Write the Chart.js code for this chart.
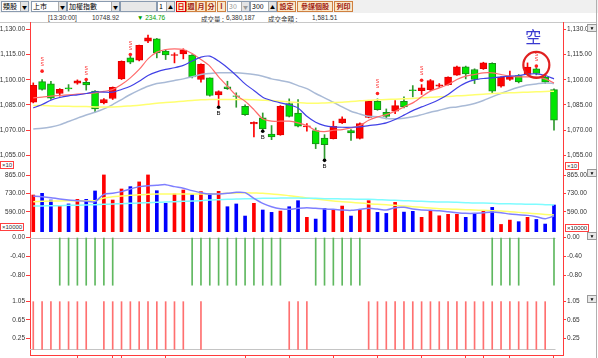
<!DOCTYPE html>
<html><head><meta charset="utf-8">
<script src="https://cdn.jsdelivr.net/npm/chart.js@4.4.1/dist/chart.umd.min.js"></script>
<style>
body{margin:0;background:#fff;font-family:"Liberation Sans",Arial,sans-serif;}
#wrap{position:relative;width:598px;height:358px;overflow:hidden;background:#fff;}
canvas{position:absolute;left:0;}
.a{position:absolute;white-space:nowrap;}
.tb{position:absolute;left:0;top:0;width:598px;height:13px;background:#f0f0f0;}
.sel{position:absolute;top:1px;height:9px;border:1px solid #8a9bb0;background:#fff;font:7px "Noto Sans CJK TC";line-height:9px;padding-left:1px;color:#000;box-sizing:content-box;}
.sel i{position:absolute;right:0;top:0;width:7px;height:9px;background:#e4e4e4;border-left:1px solid #aaa;font-style:normal;font-size:5px;line-height:9px;text-align:center;}
.btn{position:absolute;top:1px;height:9px;border:1px solid #d08040;background:#fbe8c8;font:bold 7px "Noto Sans CJK TC";line-height:9px;text-align:center;color:#a02010;}
.inf{position:absolute;top:14px;font:6.5px "Liberation Sans";color:#333;}
.box{position:absolute;border:1px solid #ff4040;font:6px "Liberation Sans";line-height:6px;color:#333;background:#fff;padding:0 1px;}
.dd{position:absolute;left:587px;width:8px;height:6px;background:#e8e8e8;border:1px solid #999;font-size:5px;line-height:6px;text-align:center;color:#000;}
</style></head><body>
<div id="wrap">
 <div class="tb">
  <div class="sel" style="left:1px;width:25px">類股<i>▼</i></div>
  <div class="sel" style="left:31px;width:33px">上市<i>▼</i></div>
  <div class="sel" style="left:67px;width:50px">加權指數<i>▼</i></div>
  <div class="sel" style="left:120px;width:34px;background:#e8e8e8"></div>
  <div class="sel" style="left:157px;width:15px">1<i>▲</i></div>
  <div class="btn" style="left:176px;width:8px;color:#e00000;border-color:#e00000">日</div>
  <div class="btn" style="left:186px;width:8px">週</div>
  <div class="btn" style="left:196px;width:8px">月</div>
  <div class="btn" style="left:206px;width:8px">分</div>
  <div class="btn" style="left:217px;width:7px">I</div>
  <div class="sel" style="left:227px;width:20px;color:#999">30<i>▼</i></div>
  <div class="sel" style="left:250px;width:24px">300<i>▲</i></div>
  <div class="btn" style="left:277px;width:17px">設定</div>
  <div class="btn" style="left:297px;width:34px">參謀個股</div>
  <div class="btn" style="left:334px;width:17px">列印</div>
 </div>
 <div class="inf" style="left:48px">[13:30:00]</div>
 <div class="inf" style="left:92px">10748.92</div>
 <div class="inf" style="left:137px;color:#00a000">▼ 234.76</div>
 <div class="inf" style="left:201px;font-family:'Noto Sans CJK TC'">成交量 :</div>
 <div class="inf" style="left:226px">6,380,187</div>
 <div class="inf" style="left:268px;font-family:'Noto Sans CJK TC'">成交金額 :</div>
 <div class="inf" style="left:312px">1,581.51</div>
 <div class="a" style="left:0;top:22px;width:596px;height:1px;background:#c8c8c8"></div>
 <div class="a" style="left:596px;top:0;width:1px;height:358px;background:#b0b0b0"></div>

 <canvas id="c1" width="598" height="146" style="top:22px"></canvas>
 <canvas id="c2" width="598" height="64" style="top:168px"></canvas>
 <canvas id="c3" width="598" height="58" style="top:232px"></canvas>
 <canvas id="c4" width="598" height="68" style="top:290px"></canvas>

 <div class="box" style="left:0;top:161px">×10</div>
 <div class="box" style="left:565px;top:162px">×10</div>
 <div class="box" style="left:0;top:223px">×10000</div>
 <div class="box" style="left:565px;top:224px">×10000</div>
 <div class="dd" style="top:24px">▼</div>
 <div class="dd" style="top:169px">▼</div>
 <div class="dd" style="top:232px">▼</div>
 <div class="dd" style="top:295px">▼</div>
</div>
<script>
// ---------- DATA ----------
const openP  = [1086.6,1098.9,1097.5,1091.8,1095.1,1097.9,1098.5,1093.2,1086.2,1088.8,1100.5,1113.0,1111.6,1123.0,1124.4,1117.0,1114.4,1115.4,1114.6,1100.1,1101.1,1091.0,1095.7,1090.4,1084.2,1073.7,1077.3,1067.7,1067.1,1085.8,1080.2,1071.9,1069.7,1065.3,1064.9,1074.3,1069.7,1065.1,1077.5,1087.2,1080.6,1081.2,1087.2,1093.9,1093.5,1094.1,1096.1,1097.1,1102.7,1107.7,1106.1,1106.5,1109.7,1096.1,1100.1,1102.5,1103.1,1106.5,1101.5,1094.1];
const highP  = [1098.1,1100.1,1099.1,1094.7,1097.1,1099.9,1099.3,1093.6,1088.8,1095.7,1111.2,1114.0,1120.6,1126.6,1124.6,1118.0,1116.0,1118.4,1115.0,1109.5,1101.1,1093.4,1099.1,1092.2,1085.0,1074.9,1080.2,1072.7,1084.6,1088.6,1088.2,1073.9,1071.3,1067.3,1075.3,1077.9,1070.3,1074.3,1087.6,1088.6,1082.6,1087.6,1089.8,1096.5,1097.1,1100.1,1097.7,1101.7,1108.1,1108.1,1106.5,1110.4,1110.1,1101.7,1105.1,1103.1,1110.0,1107.1,1102.1,1094.5];
const lowP   = [1086.2,1093.8,1088.2,1090.2,1093.2,1097.3,1093.8,1080.6,1085.6,1088.2,1100.1,1109.5,1111.2,1122.0,1113.0,1112.0,1110.0,1112.4,1101.1,1098.5,1090.2,1083.8,1094.2,1083.6,1078.8,1065.9,1070.3,1064.3,1066.9,1077.8,1071.9,1069.3,1059.0,1052.0,1064.7,1073.9,1063.9,1064.7,1077.3,1081.8,1076.7,1079.8,1083.2,1089.8,1091.2,1093.5,1095.5,1096.7,1102.5,1100.5,1097.7,1106.1,1092.2,1095.5,1099.5,1098.1,1102.7,1102.9,1097.7,1069.9];
const closeP = [1096.7,1094.2,1089.0,1094.2,1094.5,1099.3,1096.9,1082.6,1088.2,1095.5,1111.0,1110.5,1120.4,1125.0,1116.0,1114.8,1115.0,1117.6,1101.7,1109.1,1090.6,1093.0,1094.7,1090.0,1079.2,1074.7,1070.7,1065.9,1084.2,1078.2,1072.3,1072.5,1061.7,1061.3,1072.3,1076.7,1068.3,1073.9,1087.2,1082.2,1078.2,1084.6,1083.8,1093.5,1095.1,1099.5,1096.9,1101.5,1107.7,1103.5,1100.1,1110.0,1093.2,1101.5,1102.1,1098.7,1107.5,1103.7,1098.5,1075.9];
const maShort = [1089.2,1089.6,1090.2,1090.6,1091.0,1091.4,1091.8,1092.2,1093.0,1094.2,1097.1,1101.1,1106.1,1112.4,1116.4,1118.0,1118.4,1118.0,1115.6,1112.0,1108.1,1101.7,1096.1,1090.6,1087.2,1082.2,1076.7,1075.3,1075.3,1075.3,1074.3,1072.7,1069.7,1069.1,1069.9,1070.3,1071.3,1072.7,1075.9,1077.9,1079.2,1081.2,1083.8,1086.2,1089.8,1093.2,1095.1,1097.1,1100.1,1102.1,1103.1,1104.1,1104.1,1103.1,1102.1,1101.7,1101.7,1101.7,1100.5,1098.1];
const maMid   = [1083.2,1085.2,1087.8,1089.4,1090.4,1091.0,1091.8,1092.8,1092.6,1092.6,1094.2,1096.1,1099.1,1102.5,1104.7,1106.1,1107.1,1108.5,1111.1,1113.4,1114.0,1111.1,1107.1,1102.5,1097.5,1093.6,1089.6,1087.6,1086.2,1085.0,1083.2,1078.2,1074.7,1072.7,1071.9,1071.7,1071.7,1071.9,1072.7,1073.3,1074.3,1076.3,1078.9,1081.6,1083.8,1085.8,1088.2,1091.2,1095.1,1098.1,1099.9,1100.7,1101.1,1101.7,1102.1,1102.5,1103.3,1103.5,1102.5,1100.5];
const maLong  = [1070.7,1071.1,1071.9,1073.1,1075.1,1077.1,1079.0,1080.6,1082.6,1085.2,1088.2,1091.2,1093.8,1096.1,1097.7,1098.5,1099.5,1100.5,1101.7,1103.1,1103.7,1104.1,1104.1,1104.1,1103.7,1103.1,1102.1,1100.5,1099.5,1098.5,1096.5,1094.7,1091.8,1089.2,1086.6,1083.8,1081.2,1079.6,1078.2,1077.9,1076.9,1076.7,1077.1,1077.9,1079.2,1080.6,1081.8,1083.2,1083.8,1084.6,1085.8,1087.6,1089.8,1091.8,1093.8,1095.5,1096.9,1097.5,1098.1,1097.7];
const maYear  = [1084.6,1084.6,1084.4,1084.2,1084.2,1084.0,1084.0,1083.8,1083.8,1083.8,1084.0,1084.4,1084.8,1085.4,1086.0,1086.4,1086.8,1087.2,1087.6,1088.0,1088.2,1088.2,1088.2,1088.2,1088.2,1088.0,1087.8,1087.6,1087.2,1086.8,1086.4,1086.0,1086.0,1086.2,1086.4,1086.6,1087.0,1087.4,1087.8,1088.0,1088.2,1088.4,1088.6,1088.8,1089.2,1089.6,1089.8,1090.0,1090.4,1090.6,1091.0,1091.4,1091.8,1092.0,1092.2,1092.4,1092.6,1092.8,1093.0,1093.2];
const volume  = [717,730,679,633,649,684,684,748,870,679,763,781,817,870,750,654,725,755,720,743,730,745,628,649,557,654,603,585,595,628,674,547,534,615,608,633,557,603,674,585,577,661,587,593,547,598,559,570,570,547,577,598,623,493,526,514,547,531,496,641];
const volMa5  = [709.7,704.6,696.9,686.7,679.1,674.0,668.9,666.4,722.4,730.0,742.8,763.1,781.0,788.6,791.1,796.2,781.0,768.3,750.5,735.2,725.0,725.0,730.0,737.7,735.1,691.8,653.7,628.2,612.9,607.8,615.5,620.6,615.5,610.4,607.8,602.7,600.2,607.8,615.5,610.4,602.7,620.6,623.1,610.4,602.7,600.2,597.6,590.0,582.4,577.3,577.3,582.4,587.5,582.4,572.2,567.1,562.0,551.8,536.5,556.9];
const volMa10 = [666.4,668.9,671.5,671.5,674.0,674.0,674.0,674.0,694.4,704.6,709.7,714.8,719.8,722.4,724.9,724.9,724.9,724.9,724.9,724.9,724.9,727.5,730.0,732.6,735.1,732.6,730.0,724.9,719.8,712.2,704.6,694.4,686.7,679.1,671.5,666.4,661.3,656.2,651.1,646.0,643.5,638.4,633.3,628.2,623.1,618.0,612.9,610.4,607.8,605.3,602.7,600.2,597.6,595.1,590.0,584.9,579.8,574.7,569.6,564.5];
const volMa20 = [633.3,633.3,635.8,635.8,638.4,638.4,640.9,643.5,646.0,648.6,651.1,653.7,656.2,658.7,661.3,663.8,666.4,668.9,671.5,674.0,679.1,681.6,684.2,686.7,689.3,689.3,691.8,691.8,694.4,694.4,694.4,691.8,691.8,689.3,689.3,686.7,686.7,684.2,684.2,681.6,679.1,676.6,674.0,671.5,668.9,666.4,663.8,663.8,661.3,658.7,656.2,656.2,653.7,651.1,651.1,648.6,646.0,646.0,643.5,640.9];
const signalDown = [3,4,5,6,7,8,9,18,19,20,21,22,23,24,25,26,27,28,32,33,34,35,36,37,52,53,54,55,59]; // value -1
const signalUp   = [0,1,2,3,4,5,6,8,9,10,11,12,13,14,15,16,17,19,29,30,31,38,39,40,41,42,43,44,45,46,47,48,49,50,51,52,53,54,55,56,57,58]; // value 1.05
const sellIdx = [1,6,11,39,44,57];
const sellPrice = [1105.1,1100.1,1115.0,1091.8,1099.7,1108.1];
const buyIdx = [21,26,33];
const buyPrice = [1083.6,1069.3,1052.0];
const noteIdx = 57, notePrice = 1108.8, noteTextPrice = 1125.4, noteText = '空';
const priceTicks = [1055,1070,1085,1100,1115,1130];
const volTicks = [590,730,865];
const sig1Ticks = [0,-0.4,-0.8];
const sig2Ticks = [0.25,0.65,1.05];
const dateTicks = [5,9,10,15,24,29,34,39,44,49,51,54,59];

// ---------- HELPERS ----------
const N = closeP.length;
const idx = Array.from({length:N},(_,i)=>i);
const up = idx.map(i=>closeP[i]>=openP[i]);
const xMin = -0.37, xMax = 60.02;
const RED_AX = '#ff3b3b';
const fmt2 = v => Number(v).toLocaleString('en-US',{minimumFractionDigits:2,maximumFractionDigits:2});

function yAxis(pos,min,max,ticks){
  return {
    type:'linear', position:pos, min, max, offset:false,
    afterBuildTicks: ax=>{ ax.ticks = ticks.map(v=>({value:v})); },
    afterFit: ax=>{ ax.width = pos==='left'?30:35; ax.paddingTop=0; ax.paddingBottom=0; },
    grid:{drawOnChartArea:false, drawTicks:true, tickLength: pos==='left'?4:3, tickColor:RED_AX, color:RED_AX},
    border:{display:true,color:RED_AX,width:1},
    ticks:{font:{size:6.5,family:'Liberation Sans'},color:'#333',padding:1,autoSkip:false,callback:v=>fmt2(v)}
  };
}
function xAxis(show){
  if(!show) return {type:'linear',min:xMin,max:xMax,offset:false,display:false};
  return {type:'linear',min:xMin,max:xMax,offset:false,position:'bottom',
    afterBuildTicks: ax=>{ ax.ticks = dateTicks.map(v=>({value:v})); },
    afterFit: ax=>{ ax.paddingLeft=0; ax.paddingRight=0; },
    grid:{offset:false,drawOnChartArea:false,drawTicks:true,tickLength:3,tickColor:RED_AX,color:RED_AX},
    border:{display:true,color:RED_AX,width:1},
    ticks:{display:false}};
}
function baseOpts(min,max,ticks,showX){
  return {responsive:false,animation:false,devicePixelRatio:1,events:[],
    layout:{padding:0,autoPadding:false},
    plugins:{legend:{display:false},tooltip:{enabled:false}},
    scales:{x:xAxis(showX), yl:yAxis('left',min,max,ticks), yr:yAxis('right',min,max,ticks)}};
}
const lineDS = (data,color,w,order)=>({type:'line',data:idx.map(i=>({x:i,y:data[i]})),borderColor:color,borderWidth:w,pointRadius:0,tension:0.25,xAxisID:'x',yAxisID:'yl',order});

const baselinePlugin = {id:'baseline', beforeDatasetsDraw(chart,args,opts){
  if(!opts || !opts.on) return;
  const {ctx,scales:{x,yl}} = chart;
  const y = Math.round(yl.getPixelForValue(0))+0.5;
  ctx.save(); ctx.strokeStyle='#c4c4c4'; ctx.lineWidth=1;
  ctx.beginPath(); ctx.moveTo(chart.chartArea.left,y); ctx.lineTo(x.getPixelForValue(N-1)+1.5,y); ctx.stroke(); ctx.restore();
}};

const markerPlugin = {id:'markers', afterDatasetsDraw(chart,args,opts){
  if(!opts || !opts.on) return;
  const {ctx,scales:{x,yl}} = chart;
  ctx.save();
  ctx.textAlign='center';
  ctx.font='5px "Liberation Sans"';
  ctx.fillStyle='#ff2020';
  sellIdx.forEach((i,k)=>{
    const px=x.getPixelForValue(i), py=yl.getPixelForValue(sellPrice[k]);
    ctx.fillText('S',px,py-5); ctx.fillText('S',px,py-10);
  });
  ctx.fillStyle='#000';
  ctx.font='6px "Liberation Sans"';
  buyIdx.forEach((i,k)=>{
    const px=x.getPixelForValue(i), py=yl.getPixelForValue(buyPrice[k]);
    ctx.fillText('B',px,py+8);
  });
  const cx=x.getPixelForValue(noteIdx), cy=yl.getPixelForValue(notePrice);
  ctx.strokeStyle='#e02020'; ctx.lineWidth=2.2;
  ctx.beginPath(); ctx.arc(cx,cy,13,0,Math.PI*2); ctx.stroke();
  ctx.fillStyle='#3a3ad0'; ctx.font='16px "Noto Sans CJK TC"'; ctx.textBaseline='middle';
  ctx.fillText(noteText, cx-3, yl.getPixelForValue(noteTextPrice));
  ctx.restore();
}};
Chart.register(baselinePlugin, markerPlugin);

// ---------- PRICE PANEL ----------
const o1 = baseOpts(1047.44,1134.35,priceTicks,false);
o1.plugins.markers = {on:true};
new Chart(document.getElementById('c1'),{
  type:'bar',
  data:{datasets:[
    {type:'bar',data:idx.map(i=>({x:i,y:[lowP[i],highP[i]]})),backgroundColor:idx.map(i=>up[i]?'#ff0000':'#2f9a2f'),barThickness:1,grouped:false,xAxisID:'x',yAxisID:'yl',order:3},
    {type:'bar',data:idx.map(i=>({x:i,y:[openP[i],closeP[i]]})),backgroundColor:idx.map(i=>up[i]?'#ff0000':'#00e600'),borderColor:idx.map(i=>up[i]?'#e00000':'#1a8a1a'),borderWidth:1,borderSkipped:false,barThickness:7,grouped:false,xAxisID:'x',yAxisID:'yl',order:2},
    lineDS(maYear,'#ffff70',1.5,1),
    lineDS(maLong,'#a9bad6',1.5,1),
    lineDS(maMid,'#4141e6',1.2,0),
    lineDS(maShort,'#ff6a6a',1.2,0),
    {type:'scatter',data:sellIdx.map((i,k)=>({x:i,y:sellPrice[k]})),pointRadius:1.8,pointBackgroundColor:'#ff2020',pointBorderWidth:0,xAxisID:'x',yAxisID:'yl',order:-1},
    {type:'scatter',data:buyIdx.map((i,k)=>({x:i,y:buyPrice[k]})),pointRadius:1.8,pointBackgroundColor:'#000',pointBorderWidth:0,xAxisID:'x',yAxisID:'yl',order:-1}
  ]},
  options:o1
});

// ---------- VOLUME PANEL ----------
new Chart(document.getElementById('c2'),{
  type:'bar',
  data:{datasets:[
    {type:'bar',data:idx.map(i=>({x:i,y:volume[i]})),backgroundColor:idx.map(i=>up[i]?'#ff0000':'#0000ff'),barThickness:3,grouped:false,xAxisID:'x',yAxisID:'yl',order:3},
    lineDS(volMa20,'#7ffcff',1.5,1),
    lineDS(volMa10,'#ffff6a',1.5,1),
    lineDS(volMa5,'#7f7fff',1.5,0)
  ]},
  options:baseOpts(435.4,922.9,volTicks,false)
});

// ---------- SIGNAL PANEL 1 ----------
const o3 = baseOpts(-1.0995,0.1152,sig1Ticks,false);
o3.plugins.baseline={on:true};
new Chart(document.getElementById('c3'),{
  type:'bar',
  data:{datasets:[
    {type:'bar',data:signalDown.map(i=>({x:i,y:-1})),backgroundColor:'#5fb85f',barThickness:1,grouped:false,xAxisID:'x',yAxisID:'yl'}
  ]},
  options:o3
});

// ---------- SIGNAL PANEL 2 ----------
const o4 = baseOpts(-0.124,1.307,sig2Ticks,true);
o4.plugins.baseline={on:true};
new Chart(document.getElementById('c4'),{
  type:'bar',
  data:{datasets:[
    {type:'bar',data:signalUp.map(i=>({x:i,y:1.05})),backgroundColor:'#ff7070',barThickness:1,grouped:false,xAxisID:'x',yAxisID:'yl'}
  ]},
  options:o4
});
</script>
</body></html>
